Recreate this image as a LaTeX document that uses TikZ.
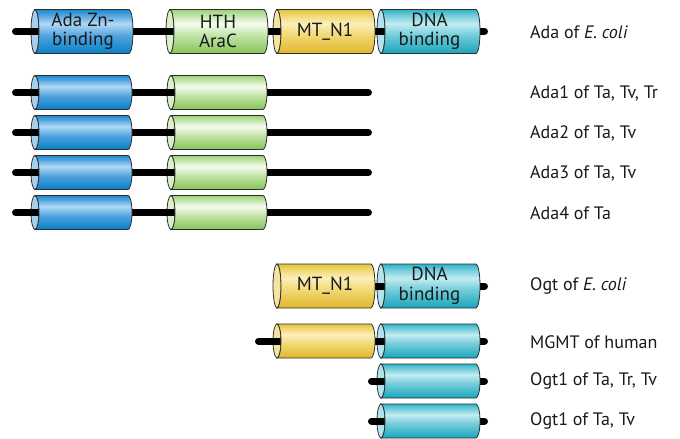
\documentclass[tikz,border=0pt]{standalone}
\usepackage{fontspec}
\setmainfont{PT Sans}
\definecolor{blueT}{HTML}{1E8ACE}
\definecolor{blueL}{HTML}{B2D8F3}
\definecolor{blueM}{HTML}{4FA3DE}
\definecolor{blueB}{HTML}{0580C6}
\definecolor{bluecap}{HTML}{A8CEEE}
\definecolor{greenT}{HTML}{9CD078}
\definecolor{greenL}{HTML}{F4FBEE}
\definecolor{greenM}{HTML}{BFE3A4}
\definecolor{greenB}{HTML}{86C356}
\definecolor{greencap}{HTML}{DAF0C6}
\definecolor{yellowT}{HTML}{E4C23C}
\definecolor{yellowL}{HTML}{FCEFBA}
\definecolor{yellowM}{HTML}{F1D770}
\definecolor{yellowB}{HTML}{DFB52C}
\definecolor{yellowcap}{HTML}{F5E4A0}
\definecolor{cyanT}{HTML}{2CB3C7}
\definecolor{cyanL}{HTML}{C2ECF2}
\definecolor{cyanM}{HTML}{6FCAD8}
\definecolor{cyanB}{HTML}{19A5BB}
\definecolor{cyancap}{HTML}{B2E4EE}
\definecolor{outl}{HTML}{2E2E2E}
\pgfdeclareverticalshading{blueshade}{100bp}{color(0bp)=(blueB); color(25bp)=(blueB); color(45bp)=(blueM); color(59bp)=(blueL); color(69bp)=(blueM); color(75bp)=(blueT); color(100bp)=(blueT)}
\pgfdeclareverticalshading{greenshade}{100bp}{color(0bp)=(greenB); color(25bp)=(greenB); color(45bp)=(greenM); color(59bp)=(greenL); color(69bp)=(greenM); color(75bp)=(greenT); color(100bp)=(greenT)}
\pgfdeclareverticalshading{yellowshade}{100bp}{color(0bp)=(yellowB); color(25bp)=(yellowB); color(45bp)=(yellowM); color(59bp)=(yellowL); color(69bp)=(yellowM); color(75bp)=(yellowT); color(100bp)=(yellowT)}
\pgfdeclareverticalshading{cyanshade}{100bp}{color(0bp)=(cyanB); color(25bp)=(cyanB); color(45bp)=(cyanM); color(59bp)=(cyanL); color(69bp)=(cyanM); color(75bp)=(cyanT); color(100bp)=(cyanT)}
\pgfdeclarelayer{caps}
\pgfdeclarelayer{lines}
\pgfsetlayers{caps,lines,main}
\tikzset{
  cylline/.style={draw=outl, line width=0.8pt},
  cyltext/.style={inner sep=0pt, align=center, font=\fontsize{19}{19.5}\selectfont, text=black!90},
  chain/.style={line width=7pt, line cap=round, black},
  lab/.style={anchor=west, inner sep=0pt, font=\fontsize{18}{20}\selectfont, text=black!90},
}
\newcommand\protcyl[7]{%
  \pgfmathsetmacro\cxa{#2+4}%
  \pgfmathsetmacro\cxb{#3-4}%
  \pgfmathsetmacro\cyt{#4-#5/2}%
  \pgfmathsetmacro\cyb{#4+#5/2}%
  \pgfmathsetmacro\cry{#5/2}%
  \begin{pgfonlayer}{caps}
    \path[cylline, fill=#6cap] (\cxa,#4) ellipse [x radius=4pt, y radius=\cry pt];
  \end{pgfonlayer}
  \path[cylline, shade, shading=#6shade] (\cxa,\cyt) -- (\cxb,\cyt)
    arc[start angle=90, end angle=-90, x radius=4pt, y radius=\cry pt]
    -- (\cxa,\cyb)
    arc[start angle=-90, end angle=90, x radius=4pt, y radius=\cry pt] -- cycle;
  \node[cyltext, minimum width={(#3-#2)*1pt}, minimum height={#5*1pt}] (#1) at ({(#2+#3)/2+1},#4) {#7};
}
\begin{document}
\begin{tikzpicture}[x=1pt, y=-1pt]
\useasboundingbox (0,0) rectangle (680,439);
% row 1: Ada of E. coli
\protcyl{adaZn}{31}{133}{31.5}{44}{blue}{Ada Zn-\\binding}
\protcyl{adaHTH}{166}{268}{31.5}{44}{green}{HTH\\AraC}
\protcyl{adaMT}{273}{375}{31.5}{44}{yellow}{MT\_N1}
\protcyl{adaDNA}{377}{480}{31.5}{44}{cyan}{DNA\\binding}
\coordinate (r1s) at (15.5,31.5); \coordinate (r1e) at (484.5,31.5);
% rows 2-5
\protcyl{a1Zn}{31}{132}{92.5}{34}{blue}{}
\protcyl{a1HTH}{167}{267}{92.5}{34}{green}{}
\coordinate (r2s) at (15.5,92.5); \coordinate (r2e) at (368.5,92.5);
\protcyl{a2Zn}{31}{132}{132.5}{34}{blue}{}
\protcyl{a2HTH}{167}{267}{132.5}{34}{green}{}
\coordinate (r3s) at (15.5,132.5); \coordinate (r3e) at (368.5,132.5);
\protcyl{a3Zn}{31}{132}{172.5}{34}{blue}{}
\protcyl{a3HTH}{167}{267}{172.5}{34}{green}{}
\coordinate (r4s) at (15.5,172.5); \coordinate (r4e) at (368.5,172.5);
\protcyl{a4Zn}{31}{132}{212.5}{34}{blue}{}
\protcyl{a4HTH}{167}{267}{212.5}{34}{green}{}
\coordinate (r5s) at (15.5,212.5); \coordinate (r5e) at (368.5,212.5);
% Ogt of E. coli
\protcyl{ogtMT}{273}{375}{286}{44}{yellow}{MT\_N1}
\protcyl{ogtDNA}{377}{480}{286}{44}{cyan}{DNA\\binding}
\coordinate (r6s) at (300,286); \coordinate (r6e) at (484.5,286);
% MGMT
\protcyl{mgMT}{273}{375}{341}{34}{yellow}{}
\protcyl{mgDNA}{377}{480}{341}{34}{cyan}{}
\coordinate (r7s) at (258.5,341); \coordinate (r7e) at (484.5,341);
% Ogt1 rows
\protcyl{o1DNA}{377}{480}{381}{34}{cyan}{}
\coordinate (r8s) at (371.5,381); \coordinate (r8e) at (484.5,381);
\protcyl{o2DNA}{377}{480}{421}{34}{cyan}{}
\coordinate (r9s) at (371.5,421); \coordinate (r9e) at (484.5,421);
\begin{pgfonlayer}{lines}
\foreach \r in {1,...,9} {\draw[chain] (r\r s) -- (r\r e);}
\end{pgfonlayer}
% labels
\node[lab] (l1) at (530,32) {Ada of \textit{E. coli}};
\node[lab] (l2) at (530,93) {Ada1 of Ta, Tv, Tr};
\node[lab] (l3) at (530,133) {Ada2 of Ta, Tv};
\node[lab] (l4) at (530,173) {Ada3 of Ta, Tv};
\node[lab] (l5) at (530,213) {Ada4 of Ta};
\node[lab] (l6) at (530,286) {Ogt of \textit{E. coli}};
\node[lab] (l7) at (530,342) {MGMT of human};
\node[lab] (l8) at (530,381) {Ogt1 of Ta, Tr, Tv};
\node[lab] (l9) at (530,421) {Ogt1 of Ta, Tv};
\end{tikzpicture}
\end{document}
